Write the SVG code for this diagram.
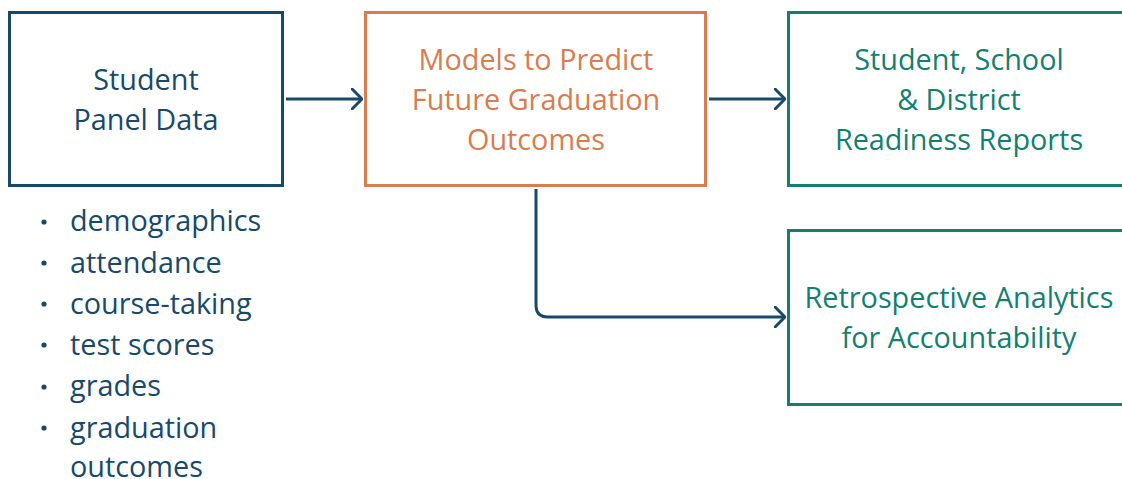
<svg xmlns="http://www.w3.org/2000/svg" width="1122" height="479" viewBox="0 0 1122 479">
  <defs>
    <style>
      .box { fill: #ffffff; stroke-width: 3; }
      .blue { stroke: #174a6a; }
      .orange { stroke: #d97c4f; }
      .teal { stroke: #137f6f; }
      text { font-family: "Open Sans", "Noto Sans", sans-serif; font-size: 28.8px; text-anchor: middle; }
      .tblue { fill: #174a6a; }
      .torange { fill: #d97c4f; }
      .tteal { fill: #137f6f; }
      .list { fill: #174a6a; text-anchor: start; }
      .conn { fill: none; stroke: #174a6a; stroke-width: 3; }
    </style>
    <marker id="chev" viewBox="0 0 12 22" refX="11" refY="11" markerWidth="12" markerHeight="22" markerUnits="userSpaceOnUse" orient="auto">
      <path d="M1,1 L11,11 L1,21" fill="none" stroke="#174a6a" stroke-width="3" stroke-linecap="round" stroke-linejoin="round"/>
    </marker>
  </defs>
  <rect width="1122" height="479" fill="#ffffff"/>

  <g id="panel-data">
    <rect class="box blue" x="9.5" y="12.5" width="273" height="173"/>
    <text class="tblue" x="146" y="90">Student</text>
    <text class="tblue" x="146" y="130">Panel Data</text>
  </g>

  <g id="data-items">
    <g fill="#174a6a">
      <circle cx="44" cy="222" r="2.6"/>
      <circle cx="44" cy="263" r="2.6"/>
      <circle cx="44" cy="304" r="2.6"/>
      <circle cx="44" cy="345" r="2.6"/>
      <circle cx="44" cy="387" r="2.6"/>
      <circle cx="44" cy="428" r="2.6"/>
    </g>
    <text class="list" x="70" y="231">demographics</text>
    <text class="list" x="70" y="273">attendance</text>
    <text class="list" x="70" y="314">course-taking</text>
    <text class="list" x="70" y="355">test scores</text>
    <text class="list" x="70" y="396">grades</text>
    <text class="list" x="70" y="438">graduation</text>
    <text class="list" x="70" y="477">outcomes</text>
  </g>

  <g id="models">
    <rect class="box orange" x="365.5" y="12.5" width="340" height="173"/>
    <text class="torange" x="536" y="70">Models to Predict</text>
    <text class="torange" x="536" y="110">Future Graduation</text>
    <text class="torange" x="536" y="150">Outcomes</text>
  </g>

  <g id="readiness-reports">
    <rect class="box teal" x="788.5" y="12.5" width="341" height="173"/>
    <text class="tteal" x="959" y="70">Student, School</text>
    <text class="tteal" x="959" y="110">&amp; District</text>
    <text class="tteal" x="959" y="150">Readiness Reports</text>
  </g>

  <g id="retrospective">
    <rect class="box teal" x="788.5" y="230.5" width="341" height="174"/>
    <text class="tteal" x="959" y="308">Retrospective Analytics</text>
    <text class="tteal" x="959" y="348">for Accountability</text>
  </g>

  <g id="connectors">
    <path class="conn" d="M286,99 H362" marker-end="url(#chev)"/>
    <path class="conn" d="M709,99 H785" marker-end="url(#chev)"/>
    <path class="conn" d="M536,189 V305 Q536,317 548,317 H785" marker-end="url(#chev)"/>
  </g>
</svg>
